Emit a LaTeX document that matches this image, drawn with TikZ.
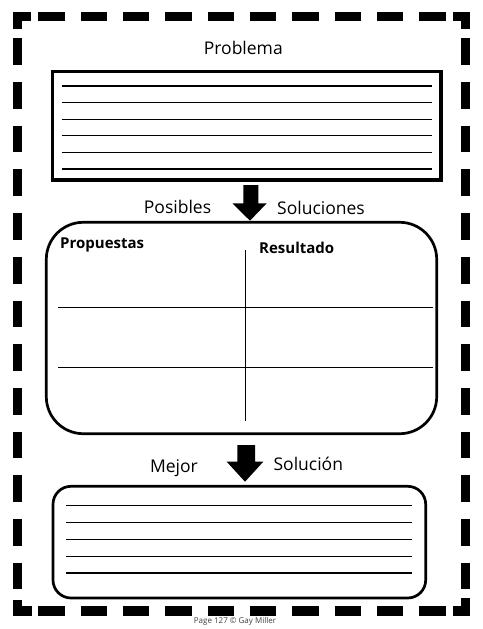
\documentclass[tikz,border=0pt]{standalone}
\usepackage{fontspec}
\setmainfont{Open Sans}
\usetikzlibrary{positioning}

\tikzset{
  titulo/.style={font=\fontsize{17.5}{19}\selectfont, inner sep=0pt, anchor=base},
  encabezado/.style={font=\bfseries\fontsize{15}{17}\selectfont, inner sep=0pt, anchor=base west},
  renglon/.style={line width=1.1pt},
  caja/.style={line width=2.7pt},
  borde/.style={line width=9.5pt},
  flecha/.style={fill=black},
}

\begin{document}
\begin{tikzpicture}[x=1pt,y=-1pt]
        \useasboundingbox (0,0) rectangle (482,629);

        % Borde punteado
        \draw[borde, dash pattern=on 26.5pt off 15.83pt] (38.3,16.7) -- (445.8,16.7);
        \draw[borde, dash pattern=on 26.5pt off 15.83pt] (38.3,611.2) -- (445.8,611.2);
        \draw[borde, dash pattern=on 26.7pt off 17pt] (17.7,38.3) -- (17.7,589.4);
        \draw[borde, dash pattern=on 26.7pt off 17pt] (465.7,38.3) -- (465.7,589.4);
        \draw[borde] (17.7,29.3) -- (17.7,16.7) -- (30.7,16.7);
        \draw[borde] (453.3,16.7) -- (465.7,16.7) -- (465.7,29.3);
        \draw[borde] (17.7,600) -- (17.7,611.2) -- (31.7,611.2);
        \draw[borde] (453.3,611.2) -- (465.7,611.2) -- (465.7,598.3);

        % Problema
        \node[titulo] (problema) at (243.3,54) {Problema};
        \draw[line width=3.3pt] (52.3,71.3) rectangle (441,180);
        \foreach \y in {86,102.6,119.2,135.8,152.4,169}
            \draw[renglon] (61.7,\y) -- (431.7,\y);

        \fill[flecha] (243.3,185) -- (258.3,185) -- (258.3,203.3) -- (266.7,203.3)
            -- (250,220.7) -- (232.3,203.3) -- (243.3,203.3) -- cycle;

        % Posibles soluciones
        \node[titulo] (posibles) at (177.5,213.5) {Posibles};
        \node[titulo] (soluciones) at (321,214) {Soluciones};
        \draw[caja, rounded corners=37pt] (46.3,222.3) rectangle (436.7,433.7);
        \node[encabezado] (propuestas) at (60,248.3) {Propuestas};
        \node[encabezado] (resultado) at (259,253.3) {Resultado};
        \draw[renglon] (245.7,250) -- (245.7,421);
        \draw[renglon] (58,307.3) -- (433,307.3);
        \draw[renglon] (58,367.3) -- (433,367.3);

        \fill[flecha] (237.3,445) -- (255,445) -- (255,461.7) -- (263.3,461.7)
            -- (245,481.7) -- (226.7,461.7) -- (237.3,461.7) -- cycle;

        % Mejor solucion
        \node[titulo] (mejor) at (174,472.7) {Mejor};
        \node[titulo] (solucion) at (308.3,470) {Solución};
        \draw[caja, rounded corners=18pt] (53,486.3) rectangle (425.7,598);
        \foreach \y in {505.8,522.6,539.4,556.2,573}
            \draw[renglon] (66,\y) -- (411.7,\y);

        \node[font=\fontsize{8}{9}\selectfont, text=black!75, inner sep=0pt] (pie) at (235,621.7) {Page 127 © Gay Miller};
\end{tikzpicture}
\end{document}
